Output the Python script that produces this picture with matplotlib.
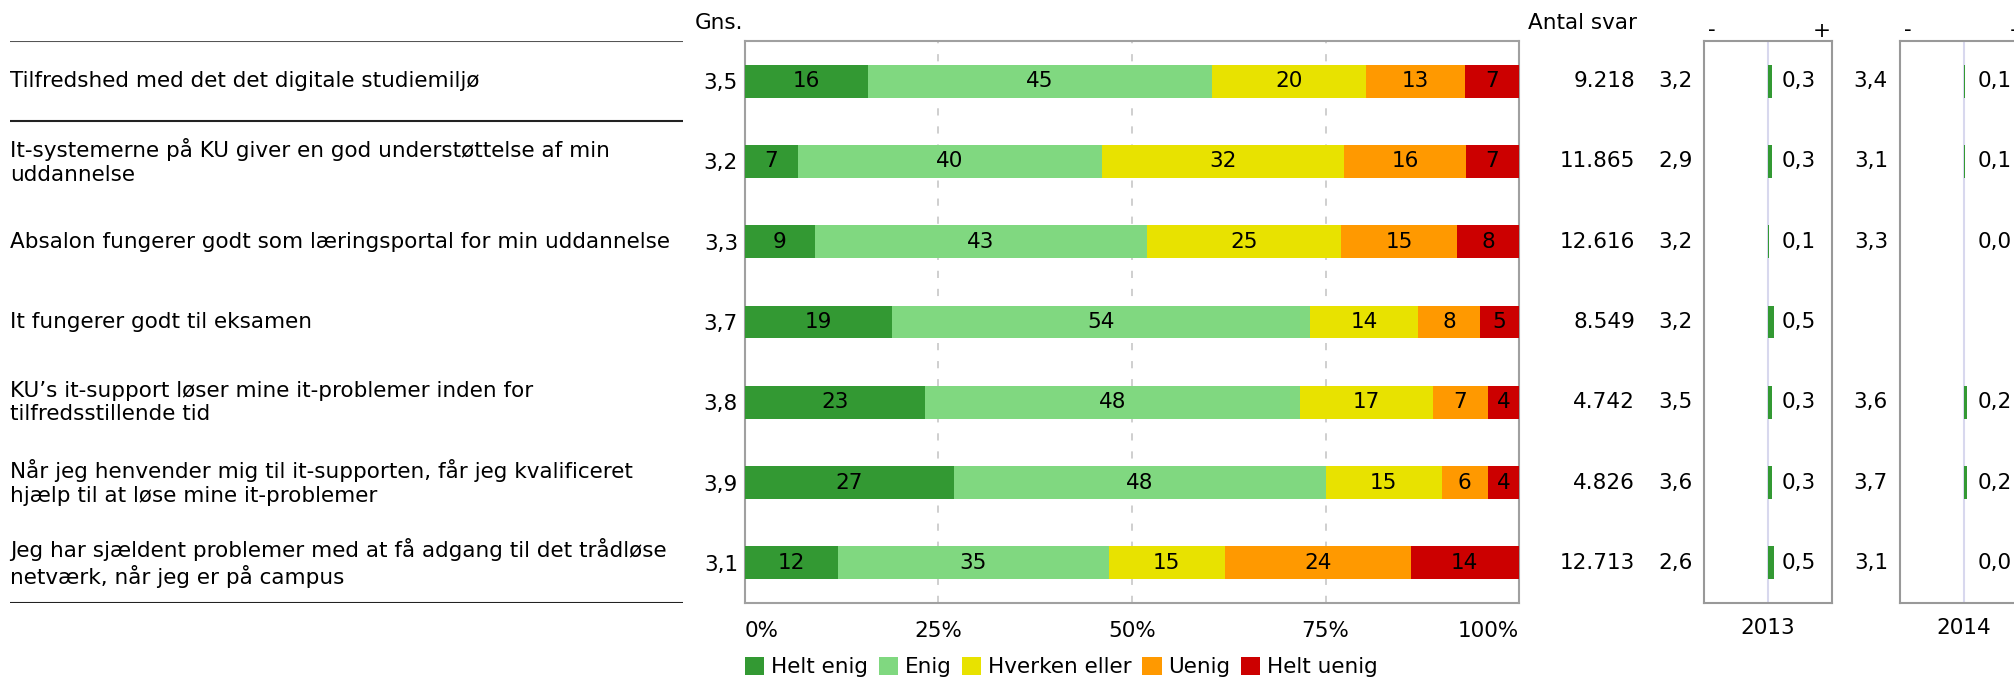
import matplotlib
matplotlib.use("Agg")
import matplotlib.pyplot as plt
import matplotlib.transforms as mtransforms
from matplotlib.patches import Patch
import numpy as np

plt.rcParams['font.family'] = ['DejaVu Sans']

questions = [
    "Tilfredshed med det det digitale studiemiljø",
    "It-systemerne på KU giver en god understøttelse af min\nuddannelse",
    "Absalon fungerer godt som læringsportal for min uddannelse",
    "It fungerer godt til eksamen",
    "KU’s it-support løser mine it-problemer inden for\ntilfredsstillende tid",
    "Når jeg henvender mig til it-supporten, får jeg kvalificeret\nhjælp til at løse mine it-problemer",
    "Jeg har sjældent problemer med at få adgang til det trådløse\nnetværk, når jeg er på campus",
]
gns = [3.5, 3.2, 3.3, 3.7, 3.8, 3.9, 3.1]
categories = ["Helt enig", "Enig", "Hverken eller", "Uenig", "Helt uenig"]
helt_enig = [16, 7, 9, 19, 23, 27, 12]
enig = [45, 40, 43, 54, 48, 48, 35]
hverken = [20, 32, 25, 14, 17, 15, 15]
uenig = [13, 16, 15, 8, 7, 6, 24]
helt_uenig = [7, 7, 8, 5, 4, 4, 14]
antal = [9218, 11865, 12616, 8549, 4742, 4826, 12713]
gns_2013 = [3.2, 2.9, 3.2, 3.2, 3.5, 3.6, 2.6]
diff_2013 = [0.3, 0.3, 0.1, 0.5, 0.3, 0.3, 0.5]
gns_2014 = [3.4, 3.1, 3.3, None, 3.6, 3.7, 3.1]
diff_2014 = [0.1, 0.1, 0.0, None, 0.2, 0.2, 0.0]
xtick_vals = [0, 25, 50, 75, 100]
xtick_labels = ["0%", "25%", "50%", "75%", "100%"]
years = ["2013", "2014"]

colors = ["#339933", "#80d880", "#e8e200", "#ff9900", "#cc0000"]
FS = 15.5
W, H = 2015, 680


def fx(px):
    return px / W


def fy(py):
    return 1 - py / H


def dk(v):
    return f"{v:.1f}".replace(".", ",")


fig = plt.figure(figsize=(W / 100, H / 100), dpi=100)
top, bottom = 41, 603
ax = fig.add_axes([fx(745), fy(bottom), fx(1519) - fx(745), fy(top) - fy(bottom)])

n = len(questions)
ypos = np.arange(n)
series = np.array([helt_enig, enig, hverken, uenig, helt_uenig], dtype=float)
shares = series / series.sum(axis=0) * 100
left = np.zeros(n)
for i, cat in enumerate(categories):
    cont = ax.barh(ypos, shares[i], left=left, height=0.41, color=colors[i],
                   label=cat, zorder=3)
    ax.bar_label(cont, labels=[str(int(v)) for v in series[i]], label_type='center',
                 fontsize=FS, color='black')
    left += shares[i]

ax.set_xlim(0, 100)
ax.set_ylim(n - 0.5, -0.5)
ax.set_xticks(xtick_vals, xtick_labels, fontsize=FS)
tl = ax.get_xticklabels()
tl[0].set_ha('left')
tl[-1].set_ha('right')
ax.set_yticks(ypos, [dk(v) for v in gns], fontsize=FS)
ax.tick_params(axis='both', length=0)
ax.tick_params(axis='x', pad=13)
ax.tick_params(axis='y', pad=5)
for x in xtick_vals[1:-1]:
    ax.axvline(x, color='#cccccc', lw=1.3, ls=(0, (4, 6)), zorder=1)
for s in ax.spines.values():
    s.set_color('#a0a0a0')
    s.set_linewidth(1.5)

# left labels
axl = fig.add_axes([fx(10), fy(bottom), fx(683) - fx(10), fy(top) - fy(bottom)])
axl.set_xlim(0, 1)
axl.set_ylim(n - 0.5, -0.5)
axl.axis('off')
for y, q in zip(ypos, questions):
    axl.text(0, y, q, ha='left', va='center', fontsize=FS, linespacing=1.22)
for yl, c in [(-0.5, '#555555'), (0.5, '#222222'), (n - 0.5, '#222222')]:
    axl.axhline(yl, color=c, lw=1.5)

fig.text(fx(743), fy(23), "Gns.", ha='right', va='center', fontsize=FS)
fig.text(fx(1528), fy(23), "Antal svar", ha='left', va='center', fontsize=FS)

tr = mtransforms.blended_transform_factory(fig.transFigure, ax.transData)
for y, a, g in zip(ypos, antal, gns_2013):
    ax.text(fx(1635), y, f"{a:,}".replace(",", "."), transform=tr, ha='right',
            va='center', fontsize=FS)
    ax.text(fx(1693), y, dk(g), transform=tr, ha='right', va='center', fontsize=FS)
for y, g in zip(ypos, gns_2014):
    if g is not None:
        ax.text(fx(1888), y, dk(g), transform=tr, ha='right', va='center', fontsize=FS)

for k, (xl, diffs, yr) in enumerate([(1704, diff_2013, years[0]), (1900, diff_2014, years[1])]):
    axd = fig.add_axes([fx(xl), fy(bottom), 128 / W, fy(top) - fy(bottom)])
    axd.set_xlim(-5, 5)
    axd.set_ylim(n - 0.5, -0.5)
    axd.set_xticks([])
    axd.set_yticks([])
    for s in axd.spines.values():
        s.set_color('#999999')
        s.set_linewidth(1.5)
    axd.axvline(0, color='#d8d8ee', lw=1.5, zorder=1)
    for y, d in zip(ypos, diffs):
        if d is None:
            continue
        axd.barh(y, d, height=0.41, color=colors[0], zorder=3)
        axd.text(1.1, y, dk(d), ha='left', va='center', fontsize=FS)
    axd.text(0.5, -0.045, yr, transform=axd.transAxes, ha='center', va='center', fontsize=FS)
    axd.text(fx(xl + 4), fy(30), "-", transform=fig.transFigure, ha='left', va='center', fontsize=FS)
    axd.text(fx(xl + 118), fy(31), "+", transform=fig.transFigure, ha='center', va='center', fontsize=FS)

handles = [Patch(facecolor=c, label=l) for c, l in zip(colors, categories)]
fig.legend(handles=handles, loc='center left', bbox_to_anchor=(fx(745), fy(667)),
           ncol=5, frameon=False, fontsize=FS, handlelength=0.9, handleheight=0.9,
           handletextpad=0.3, columnspacing=0.5, borderpad=0, borderaxespad=0)

fig.savefig("out.png", dpi=100)
